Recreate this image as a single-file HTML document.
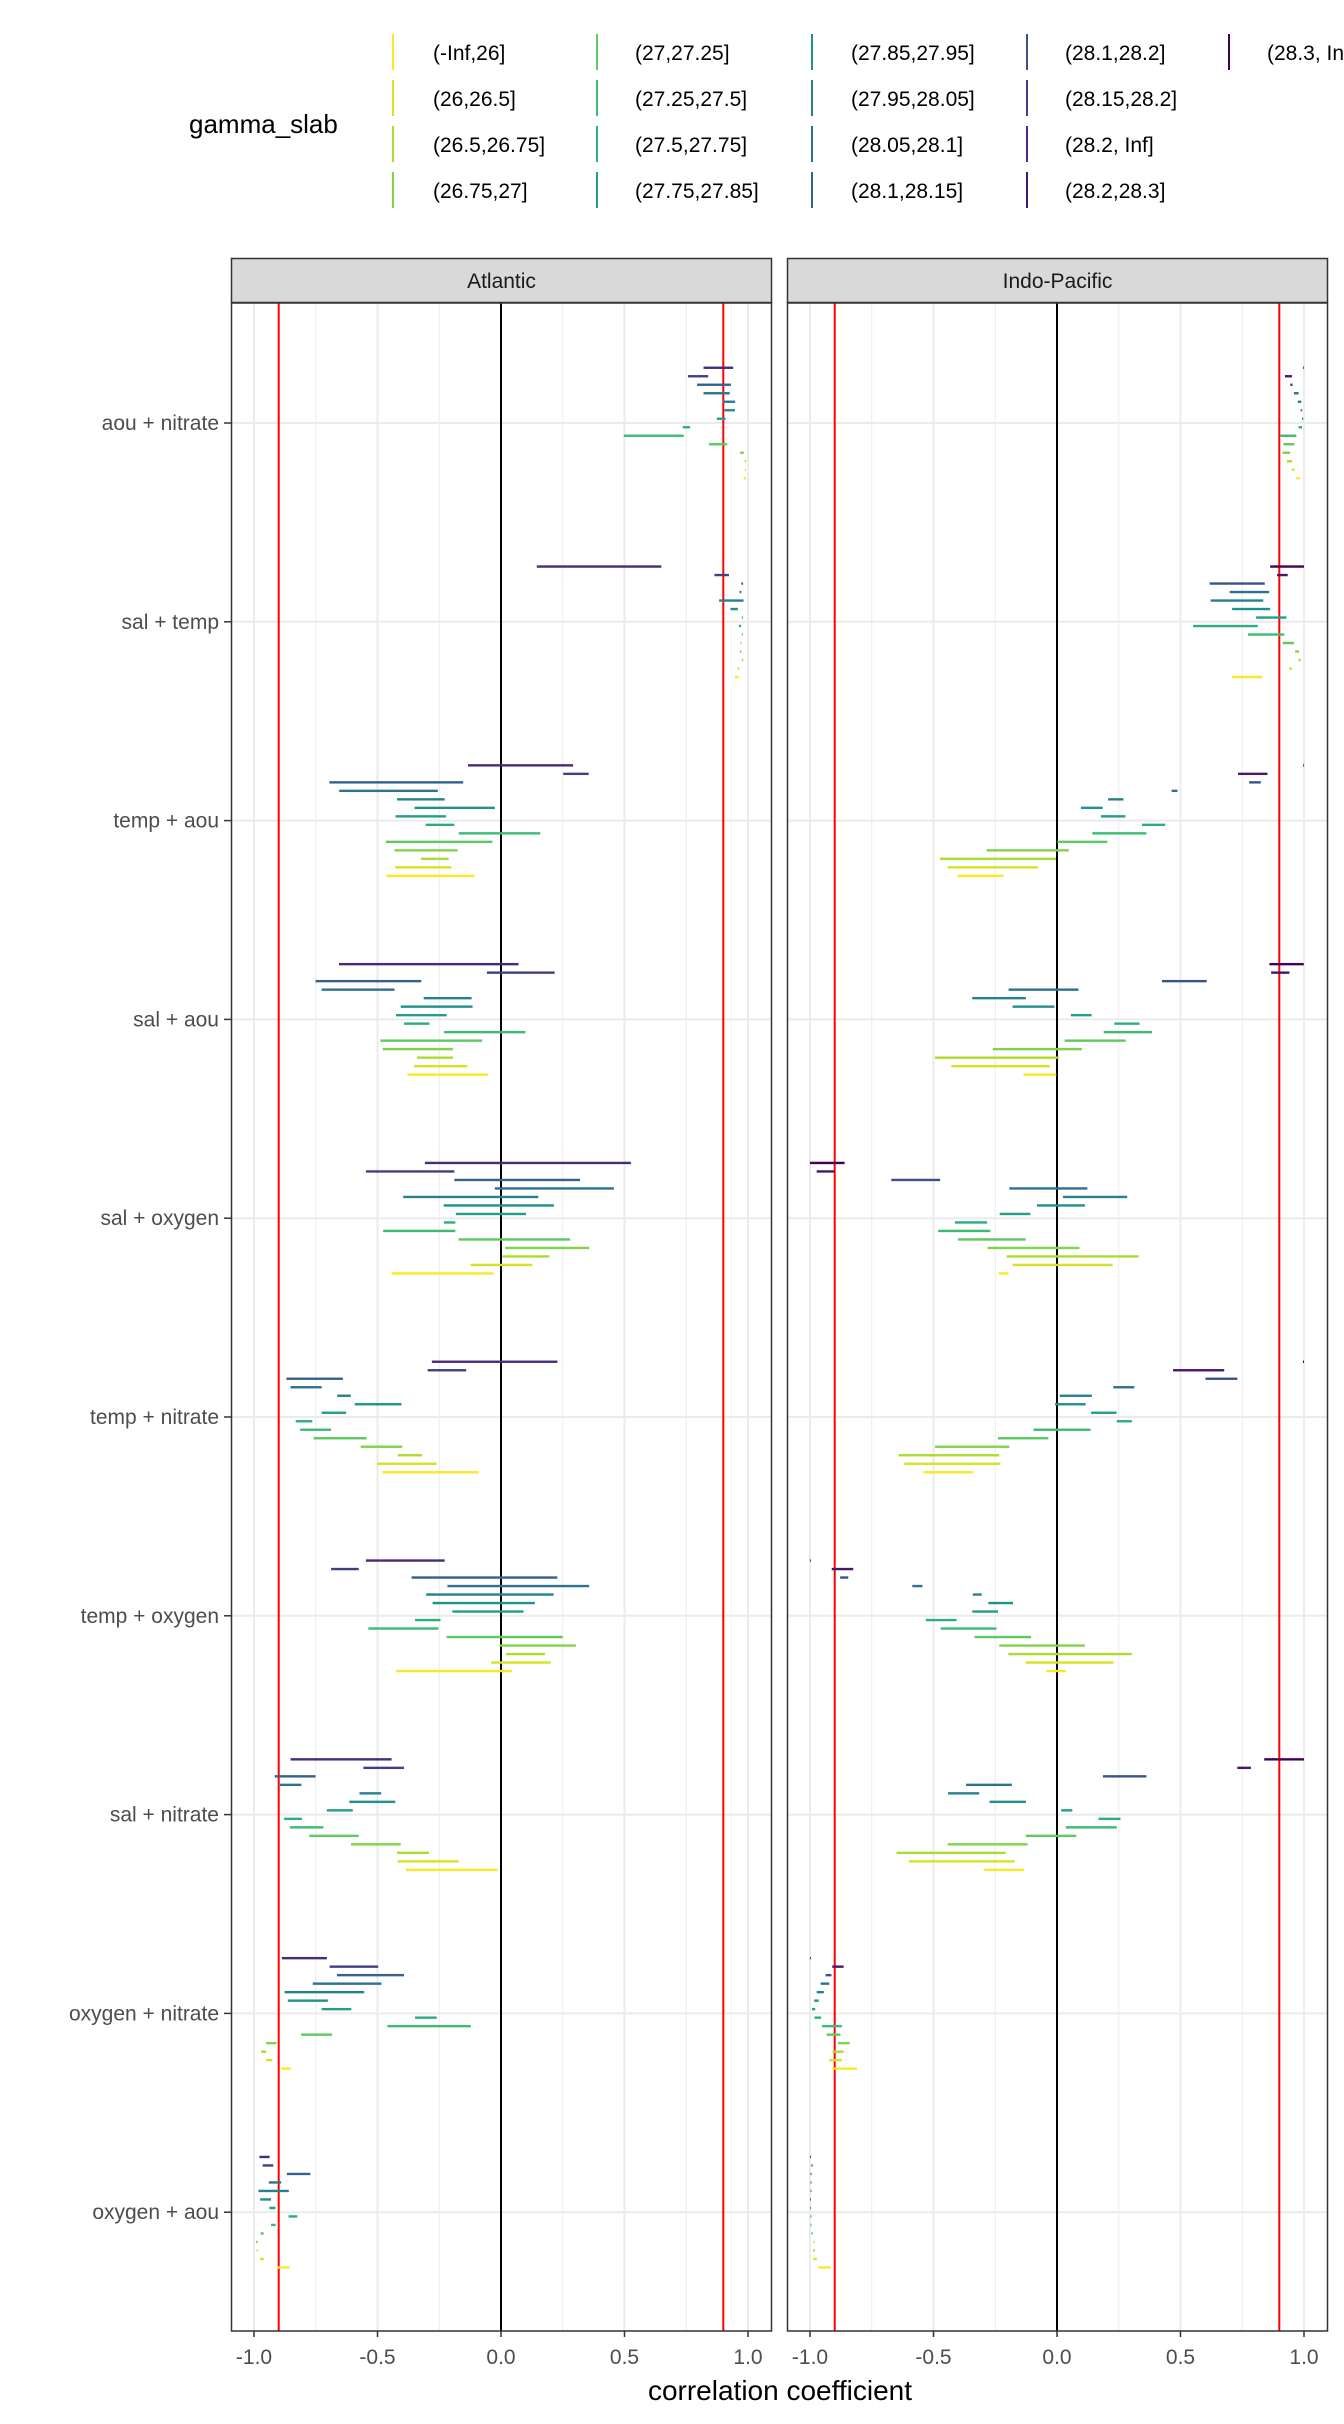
<!DOCTYPE html>
<html><head><meta charset="utf-8">
<style>
html,body{margin:0;padding:0;background:#fff;}
svg text{font-family:"Liberation Sans",sans-serif;}
</style></head>
<body>
<svg id="chart" width="1344" height="2419" viewBox="0 0 1344 2419" xmlns="http://www.w3.org/2000/svg">
  <rect x="0" y="0" width="1344" height="2419" fill="#fff"/>
  <g id="legend"></g>
  <g id="panels"></g>
  <text x="780" y="2400" font-size="28" text-anchor="middle" fill="#000">correlation coefficient</text>
</svg>
<script>
const NS="http://www.w3.org/2000/svg";
const categories=["aou + nitrate","sal + temp","temp + aou","sal + aou","sal + oxygen","temp + nitrate","temp + oxygen","sal + nitrate","oxygen + nitrate","oxygen + aou"];
const facets=["Atlantic","Indo-Pacific"];
const levels=["(-Inf,26]","(26,26.5]","(26.5,26.75]","(26.75,27]","(27,27.25]","(27.25,27.5]","(27.5,27.75]","(27.75,27.85]","(27.85,27.95]","(27.95,28.05]","(28.05,28.1]","(28.1,28.15]","(28.1,28.2]","(28.15,28.2]","(28.2, Inf]","(28.2,28.3]","(28.3, Inf]"];
const atlLevels=[0,1,2,3,4,5,6,7,8,9,10,11,13,14];
const indoLevels=[0,1,2,3,4,5,6,7,8,9,10,12,15,16];
const xTicks=[-1,-0.5,0,0.5,1];
const xTickLabels=["-1.0","-0.5","0.0","0.5","1.0"];
const xMinor=[-0.75,-0.25,0.25,0.75];
const refLines=[-0.9,0.9];
// ranges listed from top row (highest slab) to bottom row (-Inf,26]
const atlantic=[
[[0.82,0.94],[0.757,0.839],[0.794,0.931],[0.82,0.926],[0.899,0.948],[0.905,0.947],[0.874,0.909],[0.736,0.766],[0.497,0.74],[0.842,0.916],[0.968,0.983],[0.987,0.993],[0.988,0.992],[0.983,0.992]],
[[0.145,0.649],[0.864,0.923],[0.973,0.98],[0.966,0.973],[0.883,0.982],[0.929,0.959],[0.975,0.979],[0.963,0.972],[0.975,0.979],[0.97,0.973],[0.967,0.973],[0.975,0.981],[0.958,0.965],[0.947,0.962]],
[[-0.134,0.292],[0.252,0.355],[-0.695,-0.153],[-0.655,-0.256],[-0.421,-0.228],[-0.35,-0.025],[-0.427,-0.223],[-0.305,-0.189],[-0.171,0.159],[-0.466,-0.035],[-0.431,-0.176],[-0.324,-0.212],[-0.428,-0.201],[-0.464,-0.106]],
[[-0.656,0.071],[-0.057,0.217],[-0.751,-0.323],[-0.726,-0.431],[-0.313,-0.119],[-0.406,-0.115],[-0.425,-0.22],[-0.393,-0.29],[-0.231,0.099],[-0.488,-0.076],[-0.479,-0.194],[-0.34,-0.194],[-0.352,-0.136],[-0.379,-0.052]],
[[-0.308,0.526],[-0.547,-0.189],[-0.189,0.32],[-0.025,0.457],[-0.396,0.151],[-0.232,0.214],[-0.183,0.101],[-0.231,-0.185],[-0.477,-0.185],[-0.172,0.28],[0.017,0.357],[0.006,0.196],[-0.123,0.127],[-0.443,-0.031]],
[[-0.28,0.228],[-0.297,-0.141],[-0.869,-0.64],[-0.852,-0.726],[-0.663,-0.608],[-0.592,-0.403],[-0.726,-0.627],[-0.831,-0.764],[-0.813,-0.688],[-0.758,-0.544],[-0.568,-0.4],[-0.418,-0.32],[-0.502,-0.26],[-0.48,-0.09]],
[[-0.547,-0.228],[-0.688,-0.576],[-0.362,0.228],[-0.217,0.357],[-0.303,0.213],[-0.277,0.137],[-0.197,0.091],[-0.348,-0.245],[-0.537,-0.253],[-0.22,0.25],[-0.006,0.303],[0.02,0.178],[-0.039,0.201],[-0.424,0.045]],
[[-0.852,-0.443],[-0.557,-0.393],[-0.916,-0.751],[-0.895,-0.808],[-0.573,-0.485],[-0.614,-0.428],[-0.705,-0.6],[-0.878,-0.806],[-0.855,-0.719],[-0.776,-0.576],[-0.607,-0.406],[-0.421,-0.292],[-0.418,-0.171],[-0.385,-0.014]],
[[-0.887,-0.705],[-0.694,-0.497],[-0.664,-0.393],[-0.762,-0.484],[-0.876,-0.554],[-0.863,-0.701],[-0.726,-0.606],[-0.348,-0.26],[-0.46,-0.122],[-0.809,-0.684],[-0.951,-0.909],[-0.971,-0.951],[-0.951,-0.926],[-0.89,-0.852]],
[[-0.978,-0.937],[-0.965,-0.922],[-0.867,-0.772],[-0.94,-0.89],[-0.982,-0.859],[-0.975,-0.931],[-0.938,-0.913],[-0.86,-0.825],[-0.931,-0.912],[-0.973,-0.961],[-0.992,-0.985],[-0.989,-0.985],[-0.975,-0.96],[-0.906,-0.856]]
];
const indopacific=[
[[0.997,1.0],[0.923,0.951],[0.944,0.954],[0.959,0.978],[0.975,0.989],[0.986,0.993],[0.992,0.997],[0.978,0.992],[0.905,0.969],[0.917,0.961],[0.913,0.944],[0.931,0.952],[0.951,0.962],[0.969,0.983]],
[[0.863,1.0],[0.891,0.934],[0.618,0.841],[0.699,0.859],[0.622,0.835],[0.709,0.863],[0.806,0.929],[0.551,0.813],[0.773,0.92],[0.914,0.959],[0.964,0.98],[0.978,0.987],[0.94,0.952],[0.708,0.831]],
[[0.997,1.0],[0.733,0.852],[0.778,0.825],[0.464,0.488],[0.207,0.269],[0.097,0.185],[0.178,0.277],[0.344,0.438],[0.143,0.362],[0.001,0.204],[-0.285,0.048],[-0.473,-0.004],[-0.443,-0.077],[-0.404,-0.217]],
[[0.86,0.999],[0.867,0.941],[0.425,0.606],[-0.196,0.087],[-0.343,-0.126],[-0.18,-0.01],[0.056,0.14],[0.232,0.334],[0.189,0.385],[0.031,0.278],[-0.26,0.101],[-0.494,0.007],[-0.428,-0.029],[-0.136,-0.003]],
[[-1.0,-0.86],[-0.973,-0.902],[-0.671,-0.473],[-0.193,0.123],[0.024,0.284],[-0.081,0.113],[-0.232,-0.108],[-0.413,-0.283],[-0.481,-0.27],[-0.401,-0.127],[-0.281,0.091],[-0.204,0.33],[-0.18,0.225],[-0.236,-0.196]],
[[0.996,1.0],[0.47,0.677],[0.601,0.73],[0.228,0.313],[0.011,0.141],[-0.008,0.116],[0.138,0.241],[0.242,0.303],[-0.095,0.136],[-0.239,-0.035],[-0.494,-0.193],[-0.641,-0.234],[-0.618,-0.229],[-0.541,-0.341]],
[[-1.0,-0.997],[-0.912,-0.825],[-0.878,-0.845],[-0.586,-0.545],[-0.341,-0.305],[-0.278,-0.178],[-0.343,-0.239],[-0.531,-0.407],[-0.471,-0.245],[-0.334,-0.105],[-0.234,0.113],[-0.197,0.303],[-0.127,0.229],[-0.043,0.036]],
[[0.839,1.0],[0.73,0.785],[0.186,0.362],[-0.368,-0.183],[-0.441,-0.315],[-0.273,-0.126],[0.017,0.062],[0.168,0.257],[0.036,0.242],[-0.126,0.078],[-0.442,-0.119],[-0.65,-0.208],[-0.599,-0.171],[-0.295,-0.133]],
[[-1.0,-0.997],[-0.91,-0.864],[-0.937,-0.913],[-0.957,-0.922],[-0.973,-0.944],[-0.983,-0.965],[-0.992,-0.979],[-0.982,-0.955],[-0.951,-0.871],[-0.933,-0.877],[-0.887,-0.839],[-0.909,-0.864],[-0.922,-0.871],[-0.91,-0.81]],
[[-1.0,-0.998],[-0.994,-0.99],[-0.998,-0.994],[-0.998,-0.994],[-0.998,-0.994],[-1.0,-0.996],[-1.0,-0.996],[-0.998,-0.994],[-0.998,-0.994],[-0.995,-0.989],[-0.986,-0.982],[-0.987,-0.98],[-0.987,-0.973],[-0.966,-0.916]]
];
const panelData=[atlantic,indopacific];
const panelLevels=[atlLevels,indoLevels];

const vStops=["#440154","#482475","#414487","#355f8d","#2a788e","#21918c","#22a884","#42be71","#7ad151","#bddf26","#fde725"];
function hex2rgb(h){return [parseInt(h.substr(1,2),16),parseInt(h.substr(3,2),16),parseInt(h.substr(5,2),16)];}
function viridis(t){const s=t*10;const i=Math.min(9,Math.floor(s));const f=s-i;const a=hex2rgb(vStops[i]),b=hex2rgb(vStops[i+1]);return "rgb("+a.map((v,j)=>Math.round(v+(b[j]-v)*f)).join(",")+")";}
function levelColor(i){return viridis(1-i/16);}

const panelLeft=[231,787], panelW=541, panelTop=303, panelBottom=2331;
function xScale(p,v){return panelLeft[p]+270+v*247;}
function catY(i){return 423+i*198.8;}
function rowY(i,k){return catY(i)+(6.5-k)*8.5;}

function mk(tag,attrs,parent){const e=document.createElementNS(NS,tag);for(const a in attrs)e.setAttribute(a,attrs[a]);parent.appendChild(e);return e;}

const panels=document.getElementById("panels");
for(let p=0;p<2;p++){
  const g=mk("g",{},panels);
  
  
  const L=panelLeft[p];
  mk("rect",{x:L,y:panelTop,width:panelW,height:panelBottom-panelTop,fill:"#fff"},g);
  xMinor.forEach(v=>{mk("line",{x1:xScale(p,v),x2:xScale(p,v),y1:panelTop,y2:panelBottom,stroke:"#ebebeb","stroke-width":1},g);});
  xTicks.forEach(v=>{mk("line",{x1:xScale(p,v),x2:xScale(p,v),y1:panelTop,y2:panelBottom,stroke:"#ebebeb","stroke-width":2},g);});
  categories.forEach((c,i)=>{mk("line",{x1:L,x2:L+panelW,y1:catY(i),y2:catY(i),stroke:"#ebebeb","stroke-width":2},g);});
  const zl=mk("line",{x1:xScale(p,0),x2:xScale(p,0),y1:panelTop,y2:panelBottom,stroke:"#000","stroke-width":2},g);
  
  
  refLines.forEach(v=>{
    const r=mk("line",{x1:xScale(p,v),x2:xScale(p,v),y1:panelTop,y2:panelBottom,stroke:"#ff0000","stroke-width":2},g);
    
    
  });
  const data=panelData[p], lv=panelLevels[p];
  data.forEach((rows,i)=>{
    rows.forEach((rg,j)=>{
      const k=rows.length-1-j;
      const lvl=lv[k];
      const x1=xScale(p,rg[0]), x2=xScale(p,rg[1]);
      const y=rowY(i,k);
      const r=mk("rect",{x:x1,y:y-1.2,width:Math.max(0.8,x2-x1),height:2.4,fill:levelColor(lvl)},g);
      
      
    });
  });
  mk("rect",{x:L+0.5,y:panelTop,width:panelW-1,height:panelBottom-panelTop,fill:"none",stroke:"#333","stroke-width":1.5},g);
  const s=mk("rect",{x:L+0.5,y:258.5,width:panelW-1,height:44,fill:"#d9d9d9",stroke:"#333","stroke-width":1.5},g);
  
  
  const st=mk("text",{x:L+panelW/2,y:288,"font-size":21,"text-anchor":"middle",fill:"#1a1a1a"},g);
  st.textContent=facets[p];
  
  
  xTicks.forEach((v,t)=>{
    mk("line",{x1:xScale(p,v),x2:xScale(p,v),y1:panelBottom,y2:panelBottom+6,stroke:"#333","stroke-width":1.5},g);
    const tt=mk("text",{x:xScale(p,v),y:2364,"font-size":21,"text-anchor":"middle",fill:"#4d4d4d"},g);
    tt.textContent=xTickLabels[t];
    
    
  });
}
categories.forEach((c,i)=>{
  mk("line",{x1:224,x2:231,y1:catY(i),y2:catY(i),stroke:"#333","stroke-width":1.5},panels);
  const t=mk("text",{x:219,y:catY(i)+7,"font-size":21,"text-anchor":"end",fill:"#4d4d4d"},panels);
  t.textContent=c;
  
  
});
const leg=document.getElementById("legend");
const lt=mk("text",{x:189,y:133,"font-size":26,fill:"#000"},leg);
lt.textContent="gamma_slab";


const colKeyX=[393,597,812,1027,1229], colTextX=[433,635,851,1065,1267], rowCY=[52,98,144,190];
levels.forEach((lab,i)=>{
  const c=Math.floor(i/4), r=i%4;
  const e=mk("g",{},leg);
  
  
  mk("line",{x1:colKeyX[c],x2:colKeyX[c],y1:rowCY[r]-18,y2:rowCY[r]+18,stroke:levelColor(i),"stroke-width":2},e);
  const t=mk("text",{x:colTextX[c],y:rowCY[r]+8,"font-size":21,fill:"#000"},e);
  t.textContent=lab;
});
</script>
</body></html>
